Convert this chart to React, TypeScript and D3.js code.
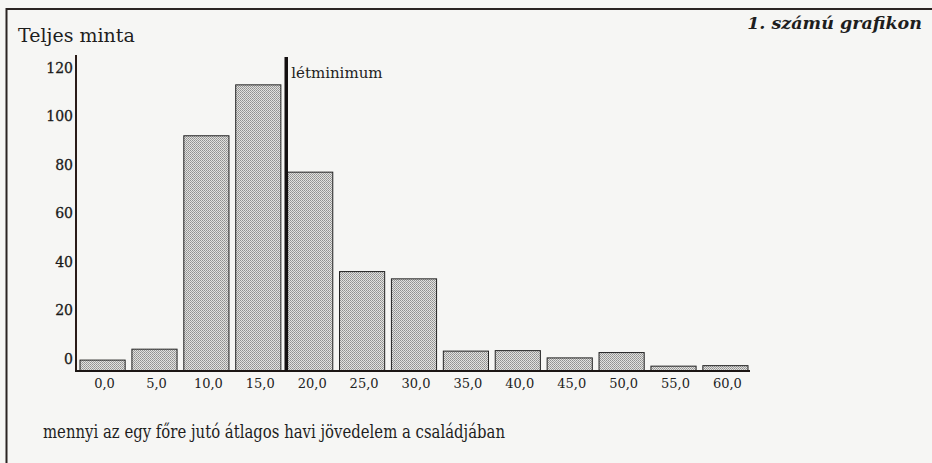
import React, { useEffect, useRef } from 'react';
import * as d3 from 'd3';

// income bands (thousand Ft / head / month)
const categories = ['0,0', '5,0', '10,0', '15,0', '20,0', '25,0', '30,0', '35,0', '40,0', '45,0', '50,0', '55,0', '60,0'];
// number of respondents in each band
const counts = [4.5, 9, 97, 118, 82, 41, 38, 8.2, 8.4, 5.4, 7.6, 2, 2.2];
const yTicks = [0, 20, 40, 60, 80, 100, 120];

const W = 932;
const H = 463;
const SERIF = '"DejaVu Serif", "Liberation Serif", serif';

const App: React.FC = () => {
  const svgRef = useRef<SVGSVGElement>(null);

  useEffect(() => {
    if (!svgRef.current) return;
    d3.select(svgRef.current).selectAll('*').remove();

    const svg = d3.select(svgRef.current)
      .attr('width', W)
      .attr('height', H)
      .attr('viewBox', `0 0 ${W} ${H}`)
      .style('font-family', SERIF);

    // stippled grey fill, like the printed raster
    const defs = svg.append('defs');
    const pat = defs.append('pattern')
      .attr('id', 'stipple')
      .attr('width', 2)
      .attr('height', 2)
      .attr('patternUnits', 'userSpaceOnUse');
    pat.append('rect').attr('width', 2).attr('height', 2).attr('fill', '#e2e2df');
    pat.append('rect').attr('x', 0).attr('y', 0).attr('width', 1).attr('height', 1).attr('fill', '#909090');
    pat.append('rect').attr('x', 1).attr('y', 1).attr('width', 1).attr('height', 1).attr('fill', '#a0a0a0');

    svg.append('rect').attr('width', W).attr('height', H).attr('fill', '#f6f6f4');

    // frame (open to the right and bottom, like the cropped scan)
    svg.append('path')
      .attr('d', `M${W + 5},9 H6.5 V${H + 5}`)
      .attr('fill', 'none')
      .attr('stroke', '#2a2422')
      .attr('stroke-width', 2);

    const x = d3.scaleBand<string>()
      .domain(categories)
      .range([80, 748])
      .paddingInner(0.13)
      .paddingOuter(0);

    const y = d3.scaleLinear()
      .domain([0, 120])
      .range([371, 80]);

    // bars
    svg.append('g')
      .selectAll('rect')
      .data(counts)
      .enter()
      .append('rect')
      .attr('x', (_, i) => x(categories[i])!)
      .attr('y', d => y(d))
      .attr('width', x.bandwidth())
      .attr('height', d => y(0) - y(d))
      .attr('fill', 'url(#stipple)')
      .attr('stroke', '#222')
      .attr('stroke-width', 1);

    // y axis line + labels
    svg.append('line')
      .attr('x1', 76).attr('x2', 76)
      .attr('y1', 55).attr('y2', y(0) + 1)
      .attr('stroke', '#2a1c18')
      .attr('stroke-width', 2);

    svg.append('g')
      .selectAll('text')
      .data(yTicks)
      .enter()
      .append('text')
      .attr('x', 73)
      .attr('y', d => y(d) - 12)
      .attr('dy', '0.35em')
      .attr('text-anchor', 'end')
      .attr('font-size', 14)
      .attr('fill', '#1a1a1a')
      .attr('stroke', '#1a1a1a')
      .attr('stroke-width', 0.3)
      .text(d => d);

    // x axis line + labels
    svg.append('line')
      .attr('x1', 75).attr('x2', 750)
      .attr('y1', y(0)).attr('y2', y(0))
      .attr('stroke', '#1c1614')
      .attr('stroke-width', 2);

    svg.append('g')
      .selectAll('text')
      .data(categories)
      .enter()
      .append('text')
      .attr('x', d => x(d)! + x.bandwidth() / 2 + 2)
      .attr('y', y(0) + 12)
      .attr('dy', '0.35em')
      .attr('text-anchor', 'middle')
      .attr('font-size', 13)
      .attr('fill', '#222')
      .text(d => d);

    // subsistence minimum marker, between the 15,0 and 20,0 bands
    const lx = x('15,0')! + x.bandwidth() + (x.step() - x.bandwidth()) / 2 + 2;
    svg.append('line')
      .attr('x1', lx).attr('x2', lx)
      .attr('y1', 57).attr('y2', y(0))
      .attr('stroke', '#141010')
      .attr('stroke-width', 3.5);
    svg.append('text')
      .attr('x', lx + 5)
      .attr('y', 78)
      .attr('font-size', 15)
      .attr('fill', '#222')
      .text('létminimum');

    // titles
    svg.append('text')
      .attr('x', 18)
      .attr('y', 42)
      .attr('font-size', 19)
      .attr('fill', '#1e1e1e')
      .text('Teljes minta');

    svg.append('text')
      .attr('x', 922)
      .attr('y', 29)
      .attr('text-anchor', 'end')
      .attr('font-size', 17.5)
      .attr('font-weight', 'bold')
      .attr('font-style', 'italic')
      .attr('fill', '#1e1e1e')
      .text('1. számú grafikon');

    svg.append('text')
      .attr('x', 43)
      .attr('y', 438)
      .attr('font-size', 18.5)
      .attr('textLength', 462)
      .attr('lengthAdjust', 'spacingAndGlyphs')
      .attr('fill', '#1e1e1e')
      .text('mennyi az egy főre jutó átlagos havi jövedelem a családjában');
  }, []);

  return (
    <div style={{ position: 'absolute', left: 0, top: 0, width: W, height: H }}>
      <svg ref={svgRef} style={{ display: 'block' }}></svg>
    </div>
  );
};

export default App;
